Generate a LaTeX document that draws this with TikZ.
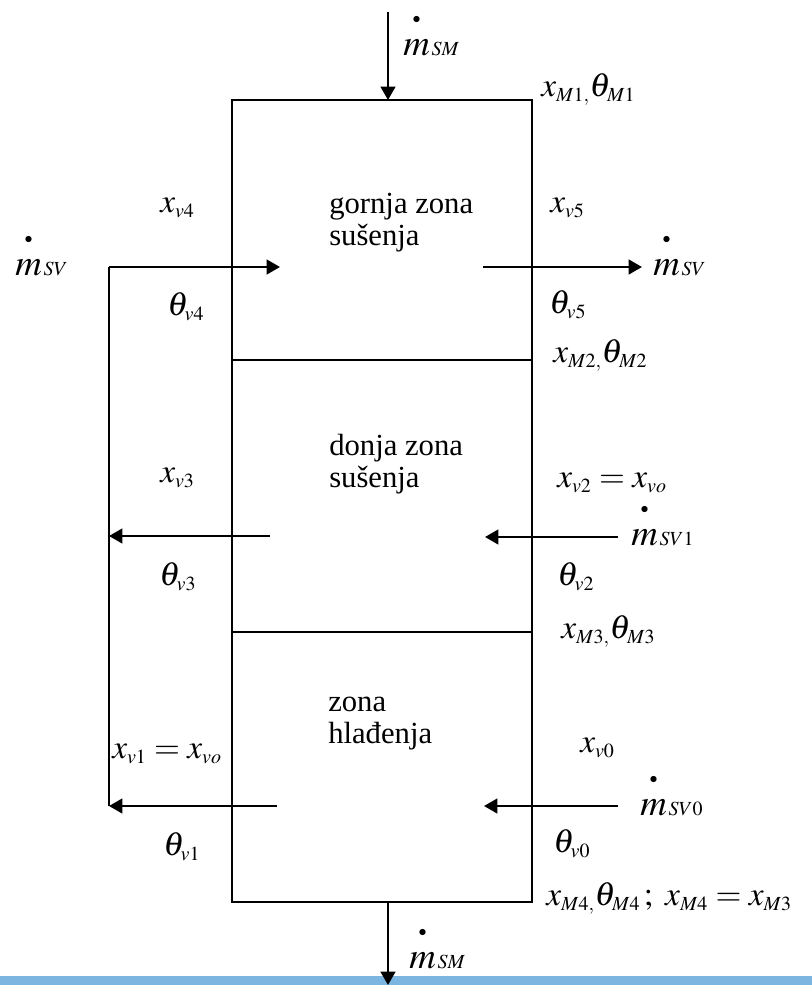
\documentclass[tikz,border=0pt]{standalone}
\usepackage{amsmath}
\usepackage{mathptmx}
\usepackage[no-math]{fontspec}
\setmainfont{Liberation Serif}
\usetikzlibrary{arrows.meta}
\DeclareMathSizes{25}{25}{15}{12}
\definecolor{bandblue}{RGB}{124,181,223}
\newcommand{\mflow}[1]{\overset{\raisebox{0.55ex}{$\scriptscriptstyle\bullet$}}{\scalebox{1.1}{$m$}}\mkern1mu{\scriptstyle #1}}
\tikzset{
  lbl/.style={anchor=base west,inner sep=0pt,font=\fontsize{25}{26}\selectfont},
  zonetxt/.style={anchor=base west,inner sep=0pt,align=left},
  boxline/.style={line width=1.2pt},
  pipe/.style={line width=1.6pt},
  flow/.style={line width=1.8pt,-{Triangle[length=10pt,width=11pt]}}
}
\begin{document}
\begin{tikzpicture}[x=.75pt,y=-.75pt,font=\fontsize{23}{24}\selectfont]
\useasboundingbox (0,0) rectangle (812,985);
\fill[bandblue] (0,976) rectangle (812,985);
% apparatus
\coordinate (tl) at (232,100);
\coordinate (br) at (532,902);
\draw[boxline] (tl) rectangle (br);
\draw[boxline] (232,360)--(532,360);
\draw[boxline] (232,632)--(532,632);
\node[zonetxt] (gornja) at (329,245) {gornja zona\\sušenja};
\node[zonetxt] (donja) at (329,487) {donja zona\\sušenja};
\node[zonetxt] (hladenja) at (328,743) {zona\\hlađenja};
% material flow
\coordinate (smTop) at (388,12);
\coordinate (smTip) at (388,100);
\coordinate (smBot) at (388,902);
\coordinate (smEnd) at (388,985);
\draw[flow] (smTop)--(smTip);
\draw[flow] (smBot)--(smEnd);
\node[lbl] (msmin) at (403,55) {$\mflow{SM}$};
\node[lbl] (msmout) at (409,968) {$\mflow{SM}$};
% air loop
\coordinate (loopT) at (109,267);
\coordinate (loopM) at (109,536);
\coordinate (loopB) at (109,806);
\coordinate (gIn) at (280,267);
\coordinate (gOutS) at (483,267);
\coordinate (gOutE) at (642,267);
\coordinate (dOutS) at (270,536);
\coordinate (dInS) at (618,537);
\coordinate (dInE) at (485,537);
\coordinate (hOutS) at (277,806);
\coordinate (hInS) at (618,806);
\coordinate (hInE) at (484,806);
\draw[pipe] (loopT)--(loopB);
\draw[flow] (loopT)--(gIn);
\draw[flow] (gOutS)--(gOutE);
\draw[flow] (dOutS)--(loopM);
\draw[flow] (dInS)--(dInE);
\draw[flow] (hOutS)--(loopB);
\draw[flow] (hInS)--(hInE);
\node[lbl] (msvin) at (15,275) {$\mflow{SV}$};
\node[lbl] (msvout) at (653,275) {$\mflow{SV}$};
\node[lbl] (msvone) at (631,545) {$\mflow{SV1}$};
\node[lbl] (msvzero) at (640,815) {$\mflow{SV0}$};
% states
\node[lbl] (xmone) at (541,96) {$x_{M1,}\theta_{M1}$};
\node[lbl] (xmtwo) at (553,362) {$x_{M2,}\theta_{M2}$};
\node[lbl] (xmthree) at (561,638) {$x_{M3,}\theta_{M3}$};
\node[lbl] (xmfour) at (546,905) {$x_{M4,}\theta_{M4}\,;\ x_{M4}=x_{M3}$};
\node[lbl] (xvfour) at (160,212) {$x_{v4}$};
\node[lbl] (thvfour) at (167,315) {$\theta_{v4}$};
\node[lbl] (xvfive) at (550,212) {$x_{v5}$};
\node[lbl] (thvfive) at (549,313) {$\theta_{v5}$};
\node[lbl] (xvthree) at (160,482) {$x_{v3}$};
\node[lbl] (thvthree) at (159,585) {$\theta_{v3}$};
\node[lbl] (xvtwo) at (557,487) {$x_{v2}=x_{vo}$};
\node[lbl] (thvtwo) at (557,585) {$\theta_{v2}$};
\node[lbl] (xvone) at (112,758) {$x_{v1}=x_{vo}$};
\node[lbl] (xvzero) at (580,752) {$x_{v0}$};
\node[lbl] (thvone) at (163,855) {$\theta_{v1}$};
\node[lbl] (thvzero) at (553,852) {$\theta_{v0}$};
\end{tikzpicture}
\end{document}
